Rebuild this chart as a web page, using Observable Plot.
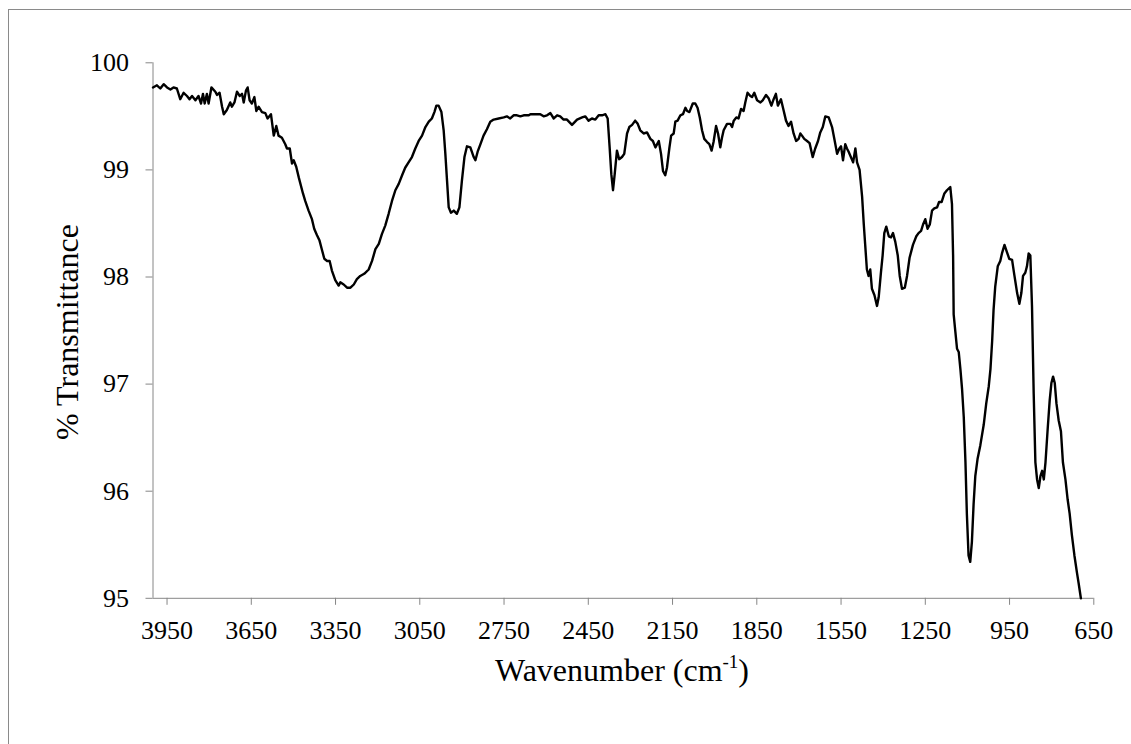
<!DOCTYPE html>
<html>
<head>
<meta charset="utf-8">
<script src="https://cdn.jsdelivr.net/npm/d3@7"></script>
<script src="https://cdn.jsdelivr.net/npm/@observablehq/plot@0.6"></script>
<style>
  html, body { margin: 0; padding: 0; background: #fff; overflow: hidden; }
  #wrap { position: relative; width: 1131px; height: 744px; }
  #frame { position: absolute; left: 8px; top: 9px; width: 1200px; height: 800px;
           border-left: 1px solid #8a8a8a; border-top: 1px solid #8a8a8a; }
  #chart { position: absolute; left: 0; top: 0; }
</style>
</head>
<body>
<div id="wrap"><div id="frame"></div><div id="chart"></div></div>
<script>
const wavenumber = [
4000,3986,3974,3962,3950,3938,3927,3915,3903,3891,3879,3870,3861,3849,3838,3829,3822,3816,3808,3802,
3792,3778,3772,3763,3754,3748,3737,3725,3719,3710,3701,3691,3683,3677,3669,3663,3656,3648,3639,3632,
3624,3612,3600,3592,3580,3570,3561,3553,3541,3529,3523,3513,3505,3499,3490,3481,
3466,3458,3446,3434,3426,3416,3407,3398,3390,3380,3371,3363,3351,3339,3333,3321,3309,3297,3285,3274,
3262,3248,3232,3220,3208,3196,3185,3173,3161,3149,3137,3125,3113,3102,3090,3078,3066,3054,3042,3030,
3018,3007,2998,2991,2983,2973,2965,2959,2953,2947,2939,2929,2918,2909,2900,2891,2882,2870,2858,2852,
2844,2834,2823,2811,2799,2787,2769,2751,2740,2728,2716,2704,2692,2680,2662,
2656,2639,2621,2609,2597,2585,2573,2561,2550,2538,2526,2508,2490,2472,2461,2449,2437,2425,2413,2401,
2389,2381,2374,2368,2362,2356,2348,2340,2330,2322,2312,2304,2294,2283,2274,2265,2253,2241,2229,2220,
2211,2199,2191,2184,2176,2170,2161,2155,2146,2140,2132,2122,2113,2104,2098,2090,2078,2069,2061,2053,
2045,2037,2027,2019,2011,2004,1995,1988,1980,1974,1968,1956,1944,1938,1932,1923,1915,1906,1897,1891,
1883,1873,1867,1859,1849,1837,1829,1817,1808,1798,1790,1782,1775,1764,1754,1746,1737,1728,1719,1710,
1701,1695,1689,1681,1671,1662,1651,1642,1632,1624,1615,1606,1594,1582,1574,1564,1556,1550,1543,1535,
1529,1523,
1507,1499,1493,1484,1475,1469,1464,1458,1452,1446,1440,1431,1422,1416,1408,1402,1396,1389,1380,1372,
1365,1357,1348,1341,1333,1323,1315,1306,1294,1282,1274,1265,1258,1250,1242,1234,1226,1218,1208,1201,
1192,1182,1173,1161,1155,1151,1149,1143,1137,1131,1125,1119,1113,1107,1102,1096,1090,1084,1078,1072,
1064,1054,1042,1033,1024,1018,1012,1007,1001,992,983,977,968,959,951,941,933,923,915,908,
902,894,888,882,876,870,864,858,852,846,840,834,828,822,814,807,801,795,789,783,
775,767,760,751,743,736,728,719,710,704,696
];
const transmittance = [
99.77,99.79,99.76,99.80,99.77,99.75,99.77,99.76,99.66,99.72,99.69,99.66,99.69,99.65,99.69,99.62,99.71,99.62,99.71,99.62,
99.77,99.73,99.70,99.72,99.59,99.52,99.56,99.63,99.59,99.63,99.73,99.69,99.71,99.63,99.74,99.77,99.65,99.62,99.68,99.55,
99.59,99.54,99.53,99.48,99.52,99.32,99.41,99.32,99.30,99.24,99.20,99.20,99.06,99.09,99.03,98.93,
98.78,98.71,98.62,98.54,98.45,98.39,98.34,98.25,98.17,98.15,98.15,98.06,97.97,97.92,97.95,97.93,97.90,97.90,97.93,97.98,
98.01,98.03,98.07,98.15,98.26,98.31,98.40,98.48,98.59,98.71,98.81,98.87,98.95,99.02,99.07,99.12,99.20,99.27,99.32,99.40,
99.45,99.48,99.54,99.60,99.60,99.54,99.37,99.15,98.90,98.65,98.60,98.62,98.59,98.65,98.90,99.12,99.22,99.21,99.12,99.09,
99.17,99.24,99.32,99.38,99.45,99.47,99.48,99.49,99.50,99.48,99.51,99.51,99.50,99.51,99.51,
99.52,99.52,99.52,99.50,99.51,99.53,99.48,99.51,99.50,99.47,99.47,99.42,99.47,99.49,99.50,99.46,99.48,99.47,99.51,99.51,
99.52,99.48,99.21,98.96,98.81,98.96,99.18,99.10,99.12,99.15,99.34,99.40,99.42,99.46,99.43,99.37,99.34,99.35,99.29,99.27,
99.21,99.27,99.15,98.99,98.95,99.02,99.21,99.32,99.34,99.45,99.46,99.51,99.52,99.58,99.55,99.54,99.62,99.62,99.58,99.49,
99.37,99.29,99.26,99.24,99.18,99.26,99.41,99.34,99.21,99.30,99.37,99.43,99.43,99.40,99.46,99.49,99.48,99.57,99.55,99.63,
99.72,99.69,99.68,99.72,99.65,99.63,99.65,99.70,99.67,99.60,99.66,99.71,99.60,99.66,99.55,99.46,99.41,99.45,99.34,99.27,
99.29,99.34,99.32,99.29,99.27,99.25,99.12,99.20,99.27,99.35,99.40,99.50,99.49,99.40,99.29,99.15,99.20,99.22,99.09,99.24,
99.20,99.17,
99.07,99.20,99.07,99.00,98.75,98.49,98.30,98.07,98.01,98.07,97.89,97.83,97.73,97.81,98.04,98.20,98.41,98.47,98.38,98.37,
98.41,98.33,98.20,98.01,97.89,97.90,98.01,98.18,98.30,98.38,98.41,98.43,98.49,98.54,98.45,98.49,98.62,98.64,98.65,98.70,
98.70,98.78,98.81,98.84,98.68,98.20,97.65,97.49,97.33,97.30,97.14,96.95,96.69,96.27,95.79,95.40,95.34,95.53,95.88,96.14,
96.30,96.43,96.62,96.82,96.98,97.14,97.40,97.69,97.91,98.10,98.15,98.22,98.30,98.23,98.17,98.16,98.02,97.85,97.75,97.85,
98.01,98.04,98.10,98.22,98.20,97.72,96.91,96.27,96.11,96.03,96.14,96.19,96.11,96.27,96.59,96.85,97.01,97.07,97.01,96.82,
96.66,96.56,96.27,96.11,95.92,95.79,95.59,95.40,95.24,95.14,95.00
];
const xTicks = [3950,3650,3350,3050,2750,2450,2150,1850,1550,1250,950,650];
const yTicks = [95,96,97,98,99,100];
const xTitle = "Wavenumber (cm";
const xTitleSup = "-1";
const yTitle = "% Transmittance";

const data = wavenumber.map((w, i) => ({w, t: transmittance[i]}));
const axisGray = "#868686";
const serif = "'Liberation Serif', 'Times New Roman', serif";

const chart = Plot.plot({
  width: 1131,
  height: 744,
  marginLeft: 152.5,
  marginRight: 37.7,
  marginTop: 62.3,
  marginBottom: 146.2,
  x: {domain: [4000, 650]},
  y: {domain: [95, 100]},
  style: {fontFamily: serif, fontSize: "26px", color: "black", background: "transparent", overflow: "visible"},
  marks: [
    Plot.ruleY([95], {stroke: axisGray, strokeWidth: 1}),
    Plot.ruleX([4000], {stroke: axisGray, strokeWidth: 1}),
    Plot.axisX({ticks: xTicks, tickSize: 7, tickPadding: 15, stroke: axisGray, fill: "black",
                fontSize: 26, label: null, tickFormat: d => String(d)}),
    Plot.axisY({ticks: yTicks, tickSize: 7, tickPadding: 17, stroke: axisGray, fill: "black",
                fontSize: 26, label: null, tickFormat: d => String(d)}),
    Plot.line(data, {x: "w", y: "t", stroke: "black", strokeWidth: 2.4, strokeLinejoin: "round"})
  ]
});
document.getElementById("chart").appendChild(chart);

const svg = d3.select(chart);
const xt = svg.append("text")
  .attr("x", 622).attr("y", 681)
  .attr("text-anchor", "middle")
  .attr("font-family", serif).attr("font-size", 32).attr("fill", "black");
xt.append("tspan").text(xTitle);
xt.append("tspan").attr("font-size", 19).attr("dy", -13).text(xTitleSup);
xt.append("tspan").attr("font-size", 32).attr("dy", 13).text(")");

svg.append("text")
  .attr("transform", "translate(78,332) rotate(-90)")
  .attr("text-anchor", "middle")
  .attr("font-family", serif).attr("font-size", 32).attr("fill", "black")
  .text(yTitle);
</script>
</body>
</html>
